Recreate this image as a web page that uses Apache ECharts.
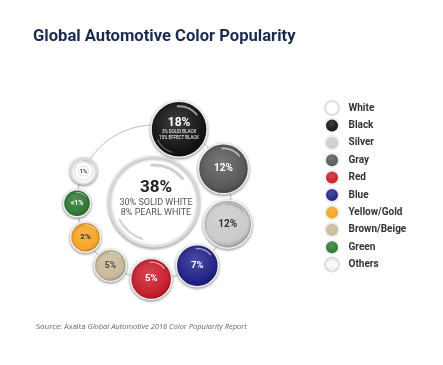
<!DOCTYPE html>
<html>
<head>
<meta charset="utf-8">
<script src="https://cdn.jsdelivr.net/npm/echarts@6/dist/echarts.min.js"></script>
<style>
html,body{margin:0;padding:0;background:#fff;}
#chart{width:443px;height:365px;}
</style>
</head>
<body>
<div id="chart"></div>
<script>
// ---- data ----
const colorNames = ['White','Black','Silver','Gray','Red','Blue','Yellow/Gold','Brown/Beige','Green','Others'];
const shareLabels = ['38%','18%','12%','12%','5%','7%','2%','5%','<1%','1%'];
const centerDetail = ['30% SOLID WHITE','8% PEARL WHITE'];
const blackDetail = ['3% SOLID BLACK','15% EFFECT BLACK'];
const titleText = 'Global Automotive Color Popularity';
const sourcePlain = 'Source: Axalta ';
const sourceItalic = 'Global Automotive 2018 Color Popularity Report';

// ---- layout / style (not data) ----
const ringOrder = ['Black','Gray','Silver','Blue','Red','Brown/Beige','Yellow/Gold','Green','Others'];
const bubbleRadius = {White:45, Black:28, Silver:24, Gray:25, Red:20.5, Blue:21, 'Yellow/Gold':15, 'Brown/Beige':16, Green:13.5, Others:13};
const baseColor = {White:'#ffffff', Black:'#151515', Silver:'#c9cacc', Gray:'#58595b', Red:'#c81f2e', Blue:'#23238a', 'Yellow/Gold':'#f5a524', 'Brown/Beige':'#c9b99b', Green:'#2d7a32', Others:'#ffffff'};
const textColor = {White:'#222', Black:'#fff', Silver:'#333', Gray:'#fff', Red:'#fff', Blue:'#fff', 'Yellow/Gold':'#333', 'Brown/Beige':'#444', Green:'#fff', Others:'#444'};
const labelSize = {White:17, Black:12, Silver:10, Gray:10, Red:9.5, Blue:9.5, 'Yellow/Gold':8, 'Brown/Beige':8.5, Green:7, Others:6};
const ringR = 77, startAngle = 19, gapPx = 6.5;

function shade(hex, f){
  const n = parseInt(hex.slice(1),16);
  let r=(n>>16)&255,g=(n>>8)&255,b=n&255;
  const m = v => Math.max(0,Math.min(255,Math.round(f>0? v+(255-v)*f : v*(1+f))));
  return 'rgb('+m(r)+','+m(g)+','+m(b)+')';
}
function fillFor(name){
  const c = baseColor[name];
  if (name==='White') return {type:'radial',x:0.5,y:0.5,r:0.5,colorStops:[{offset:0,color:'#fff'},{offset:0.88,color:'#fff'},{offset:0.97,color:'#ececec'},{offset:1,color:'#f6f6f6'}]};
  if (name==='Others') return {type:'radial',x:0.5,y:0.5,r:0.5,colorStops:[
    {offset:0,color:'#fff'},{offset:0.3,color:'#fff'},{offset:0.36,color:'#dcdcdc'},{offset:0.42,color:'#fff'},
    {offset:0.6,color:'#fff'},{offset:0.66,color:'#dcdcdc'},{offset:0.72,color:'#fff'},{offset:0.88,color:'#fff'},{offset:0.94,color:'#d8d8d8'},{offset:1,color:'#f4f4f4'}]};
  return {type:'radial',x:0.45,y:0.38,r:0.62,colorStops:[
    {offset:0,color:shade(c,0.18)},{offset:0.78,color:c},{offset:1,color:shade(c,-0.25)}]};
}

// angles along ring computed from bubble sizes (packing)
const ringAngle = {};
let ang = startAngle;
ringOrder.forEach((n,i)=>{
  if (i>0){
    const prev = ringOrder[i-1];
    const chord = bubbleRadius[prev]+bubbleRadius[n]+gapPx;
    ang += 2*Math.asin(chord/(2*ringR))*180/Math.PI;
  }
  ringAngle[n]=ang;
});
const posOf = n => n==='White' ? [0,0] : [1, ringAngle[n]];

const series = colorNames.map((n,i)=>{
  let label;
  if (n==='White'){
    label = {show:true,position:'inside',offset:[2,-4],
      formatter:'{big|'+shareLabels[i]+'}\n{sub|'+centerDetail[0]+'}\n{sub|'+centerDetail[1]+'}',
      rich:{big:{fontSize:17,fontWeight:'bold',color:'#222',lineHeight:19,fontFamily:'Roboto'},
            sub:{fontSize:9,color:'#555',lineHeight:10,fontFamily:'Roboto'}}};
  } else if (n==='Black'){
    label = {show:true,position:'inside',offset:[0,-1],
      formatter:'{big|'+shareLabels[i]+'}\n{sub|'+blackDetail[0]+'}\n{sub|'+blackDetail[1]+'}',
      rich:{big:{fontSize:12,fontWeight:'bold',color:'#fff',lineHeight:13,fontFamily:'Roboto'},
            sub:{fontSize:4.5,color:'#fff',lineHeight:5.5,fontFamily:'Roboto'}}};
  } else {
    label = {show:true,position:'inside',formatter:shareLabels[i],color:textColor[n],
      fontSize:labelSize[n],fontWeight:'bold',fontFamily:'Roboto'};
  }
  return {
    type:'scatter', name:n, coordinateSystem:'polar',
    data:[posOf(n)],
    symbol:'circle', symbolSize: bubbleRadius[n]*2,
    itemStyle:{color:fillFor(n), opacity:1, borderColor:(n==='White'||n==='Others')?'#dedede':'#f0f0f0', borderWidth:1.5,
      shadowColor:'rgba(0,0,0,0.4)', shadowBlur:3, shadowOffsetY:1},
    label, silent:true, z:3
  };
});

// glossy highlight arcs drawn on top of each bubble
series.push({
  type:'custom', coordinateSystem:'polar', silent:true, z:4,
  data: colorNames.map((n,i)=>posOf(n).concat([i])),
  renderItem:function(params, api){
    const n = colorNames[api.value(2)];
    const p = api.coord([api.value(0), api.value(1)]);
    const r = bubbleRadius[n];
    const light = (n==='White'||n==='Others'||n==='Silver');
    const children = [{
      type:'arc', shape:{cx:p[0],cy:p[1],r:r*0.82,startAngle:-Math.PI*0.52,endAngle:-Math.PI*0.22,clockwise:true},
      style:{stroke: light ? 'rgba(150,150,150,0.45)' : 'rgba(255,255,255,0.55)', lineWidth: Math.max(1, r*0.07), fill:null, lineCap:'round'}
    }];
    if (n==='White' || n==='Black'){
      children.push({
        type:'arc', shape:{cx:p[0],cy:p[1],r:r*0.86,startAngle:Math.PI*0.6,endAngle:Math.PI*0.85,clockwise:true},
        style:{stroke: n==='White' ? 'rgba(150,150,150,0.4)' : 'rgba(255,255,255,0.3)', lineWidth: Math.max(1, r*0.05), fill:null, lineCap:'round'}
      });
    }
    return {type:'group', children};
  }
});

const chart = echarts.init(document.getElementById('chart'), null, {renderer:'canvas'});
chart.setOption({
  backgroundColor:'#fff',
  animation:false,
  title:[
    {text:titleText,left:33,top:28,padding:0,textStyle:{fontSize:16.6,fontWeight:'bold',color:'#1b2b4f',fontFamily:'Roboto'}},
    {text:'{a|'+sourcePlain+'}{b|'+sourceItalic+'}',left:36,top:323,padding:0,
      textStyle:{fontWeight:'normal',rich:{a:{fontSize:7.5,color:'#666',fontWeight:'normal',fontFamily:'Open Sans'},b:{fontSize:7.5,color:'#666',fontWeight:'normal',fontStyle:'italic',fontFamily:'Open Sans'}}}}
  ],
  polar:{center:[154,202],radius:ringR},
  angleAxis:{type:'value',min:0,max:360,startAngle:90,clockwise:true,
    axisLine:{show:true,lineStyle:{color:'#bdbdbd',width:1}},axisTick:{show:false},axisLabel:{show:false},splitLine:{show:false}},
  radiusAxis:{type:'value',min:0,max:1,axisLine:{show:false},axisTick:{show:false},axisLabel:{show:false},splitLine:{show:false}},
  legend:{data:colorNames,orient:'vertical',left:324,top:100,padding:0,itemWidth:15,itemHeight:14,itemGap:1.4,icon:'circle',
    selectedMode:false,textStyle:{fontSize:10,fontWeight:'bold',color:'#333',fontFamily:'Roboto',lineHeight:14,padding:[0,0,0,4]}},
  series
});
</script>
</body>
</html>
